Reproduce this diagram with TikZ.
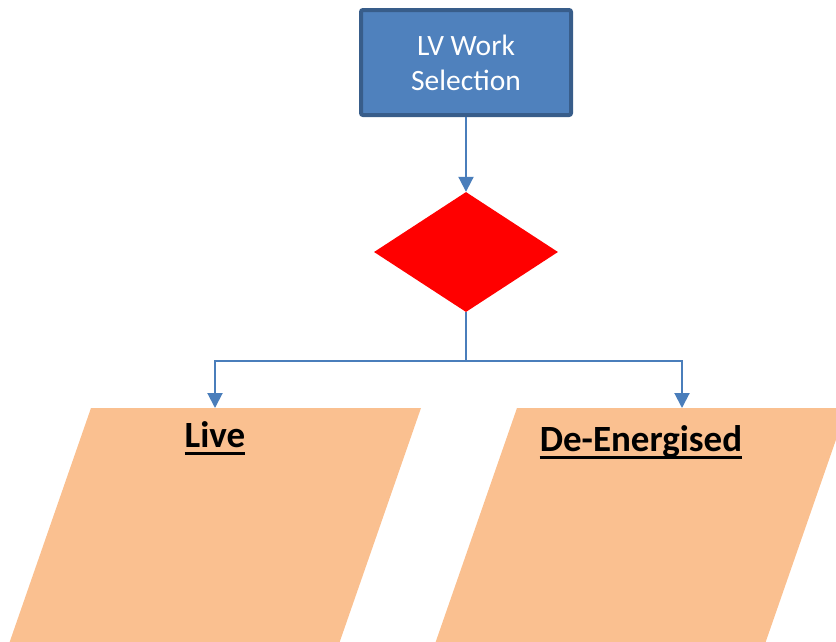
\documentclass[tikz,border=0pt]{standalone}
\usepackage{fontspec}
\setmainfont{Carlito}
\usepackage{tikz}
\usetikzlibrary{shapes.geometric,arrows.meta,calc}
\definecolor{boxfill}{HTML}{4F81BD}
\definecolor{boxline}{HTML}{385D8A}
\definecolor{flowline}{HTML}{4A7EBB}
\definecolor{pgramfill}{HTML}{FAC090}
\newcommand{\flowcolor}{flowline}
\newcommand{\flowwidth}{2pt}
\newcommand{\slant}{101.5}

\begin{document}
\begin{tikzpicture}[x=1pt,y=-1pt,
  flow/.style={draw=\flowcolor,line width=\flowwidth},
  arr/.style={flow,-{Triangle[width=15pt,length=15pt]}},
  heading/.style={inner sep=0pt,anchor=base,font=\fontsize{37}{44}\selectfont\bfseries},
  ulinebar/.style={line width=3pt}]
\useasboundingbox (0,0) rectangle (836,641);
\clip (0,0) rectangle (836,641);
\node[fill=boxfill,draw=boxline,line width=4pt,rounded corners=2pt,minimum width=210pt,minimum height=105pt,text=white,align=center,font=\fontsize{29.5}{35}\selectfont] (1) at (466,62.5) {LV Work\\Selection};
\node[diamond,fill=red,minimum width=184pt,minimum height=120pt,inner sep=0pt] (2) at (466,252) {};
%parallelograms
\coordinate (6) at (91,408);
\coordinate (7) at (517,408);
\fill[pgramfill] (6) -- ++(330,0) -- ++(-\slant,292) -- ++(-330,0) -- cycle;
\fill[pgramfill] (7) -- ++(330,0) -- ++(-\slant,292) -- ++(-330,0) -- cycle;
\node[heading] (4) at (215,447) {Live};
\node[heading] (5) at (641,451) {De-Energised};
\draw[ulinebar] ([yshift=-6pt]4.base west) -- ([yshift=-6pt]4.base east);
\draw[ulinebar] ([yshift=-6pt]5.base west) -- ([yshift=-6pt]5.base east);
%arrows
\coordinate (3) at (466,361);
\coordinate (8) at (215,408);
\coordinate (9) at (682,408);
\draw[arr] (1.south) -- (2.north);
\draw[flow] (2.south) -- (3);
\draw[arr] (3) -| (8);
\draw[arr] (3) -| (9);
\end{tikzpicture}
\end{document}
